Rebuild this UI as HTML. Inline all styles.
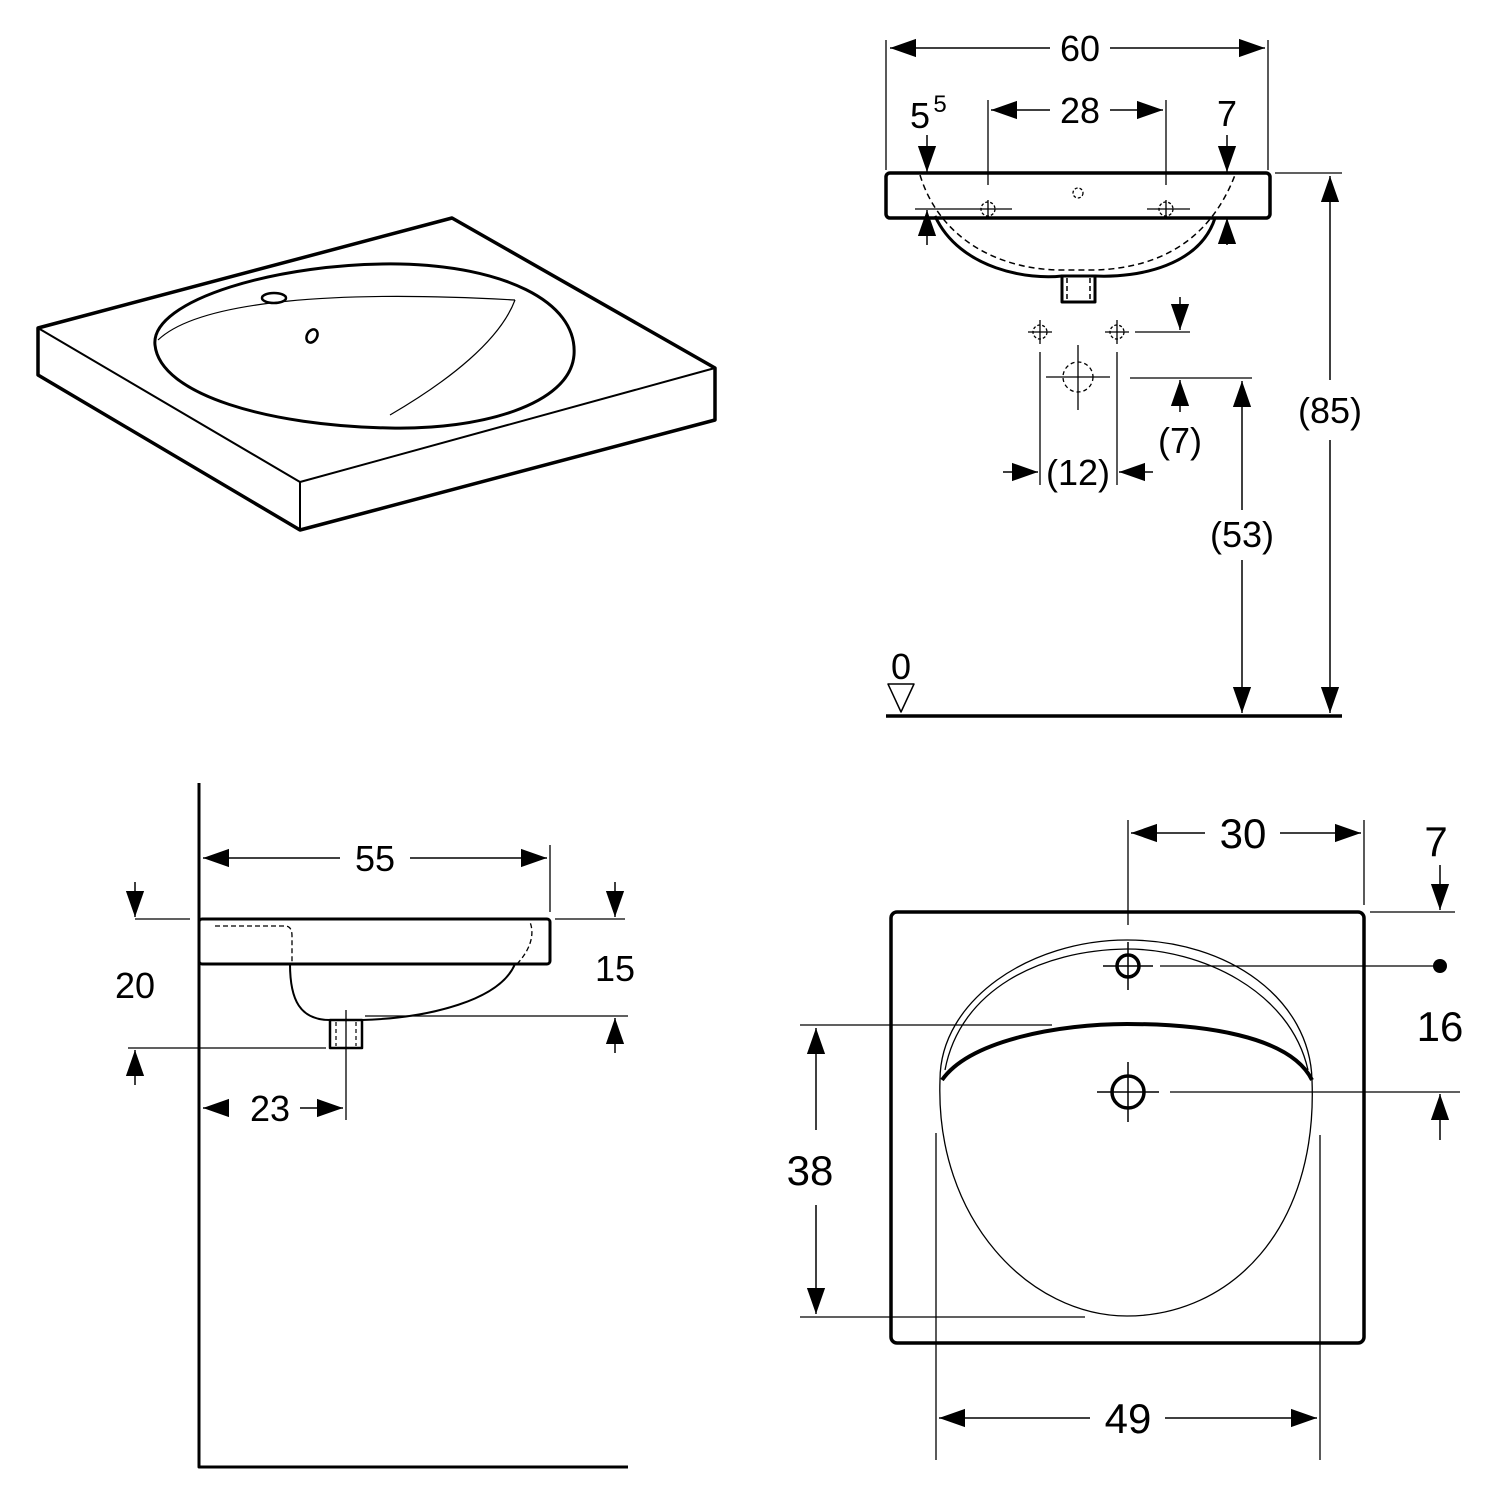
<!DOCTYPE html>
<html><head><meta charset="utf-8"><style>html,body{margin:0;padding:0;background:#fff}svg{display:block}text{font-family:"Liberation Sans",sans-serif;fill:#000}</style></head><body>
<svg width="1500" height="1500" viewBox="0 0 1500 1500" xmlns="http://www.w3.org/2000/svg">
<defs>
<marker id="a" viewBox="0 0 10 10" refX="10" refY="5" markerWidth="26" markerHeight="26" markerUnits="userSpaceOnUse" orient="auto-start-reverse"><path d="M0,1.5 L10,5 L0,8.5z" fill="#000"/></marker>
</defs>
<g fill="none" stroke="#000" stroke-linejoin="round">
<path d="M38,328 L452,218 L715,368 L715,420 L300,530 L38,375 Z" stroke-width="3.5"/>
<path d="M38,328 L300,482 L715,368 M300,482 L300,530" stroke-width="2"/>
<path d="M155,345 C150,300 280,262 400,264 C500,266 578,300 574,355 C570,405 480,430 390,428 C270,426 160,395 155,345 Z" stroke-width="3"/>
<path d="M158,340 C200,300 340,290 515,300" stroke-width="1.2"/>
<path d="M390,415 C450,380 500,340 515,300" stroke-width="1.2"/>
<ellipse cx="274" cy="298" rx="12" ry="5" stroke-width="2.5"/>
<ellipse cx="312" cy="336" rx="5" ry="7" transform="rotate(30 312 336)" stroke-width="2.5"/>

<rect x="886" y="173" width="384" height="45" rx="4" stroke-width="3.5"/>
<path d="M935,216 C960,270 1030,280 1062,276 L1095,276 C1140,278 1200,265 1215,218" stroke-width="3"/>
<path d="M920,175 C940,240 1000,270 1062,270 L1095,270 C1160,268 1210,240 1235,175" stroke-width="1.5" stroke-dasharray="6,4"/>
<rect x="1062" y="276" width="33" height="26" stroke-width="3"/>
<path d="M1067,278 V300 M1090,278 V300" stroke-width="1.5" stroke-dasharray="5,3"/>
<circle cx="1078" cy="193" r="5" stroke-width="1.3" stroke-dasharray="3,2"/>
<path d="M915,209 H1012 M1147,209 H1190 M988,200 V218 M1166,200 V218" stroke-width="1.3"/>
<circle cx="988" cy="209" r="7" stroke-width="1.3" stroke-dasharray="3,2"/>
<circle cx="1166" cy="209" r="7" stroke-width="1.3" stroke-dasharray="3,2"/>
<path d="M886,40 V170 M1268,40 V170 M988,100 V185 M1166,100 V185 M1275,173 H1342" stroke-width="1.3"/>
<path d="M886,716 H1342" stroke-width="3.5"/>
<line x1="890" y1="48" x2="1050" y2="48" stroke-width="1.5" marker-start="url(#a)"/>
<line x1="1110" y1="48" x2="1265" y2="48" stroke-width="1.5" marker-end="url(#a)"/>
<line x1="991" y1="110" x2="1050" y2="110" stroke-width="1.5" marker-start="url(#a)"/>
<line x1="1110" y1="110" x2="1163" y2="110" stroke-width="1.5" marker-end="url(#a)"/>
<line x1="927" y1="135" x2="927" y2="172" stroke-width="1.5" marker-end="url(#a)"/>
<line x1="1227" y1="135" x2="1227" y2="172" stroke-width="1.5" marker-end="url(#a)"/>
<line x1="927" y1="245" x2="927" y2="210" stroke-width="1.5" marker-end="url(#a)"/>
<line x1="1227" y1="245" x2="1227" y2="218" stroke-width="1.5" marker-end="url(#a)"/>
<line x1="1330" y1="380" x2="1330" y2="176" stroke-width="1.5" marker-end="url(#a)"/>
<line x1="1330" y1="440" x2="1330" y2="713" stroke-width="1.5" marker-end="url(#a)"/>
<line x1="1242" y1="510" x2="1242" y2="381" stroke-width="1.5" marker-end="url(#a)"/>
<line x1="1242" y1="560" x2="1242" y2="713" stroke-width="1.5" marker-end="url(#a)"/>
<path d="M1028,332 H1052 M1040,320 V344 M1105,332 H1129 M1117,320 V344 M1046,377 H1110 M1078,345 V410" stroke-width="1.3"/>
<circle cx="1040" cy="332" r="7" stroke-width="1.3" stroke-dasharray="3,2"/>
<circle cx="1117" cy="332" r="7" stroke-width="1.3" stroke-dasharray="3,2"/>
<circle cx="1078" cy="377" r="15" stroke-width="1.3" stroke-dasharray="4,3"/>
<path d="M1040,352 V485 M1117,352 V485 M1135,332 H1190 M1130,378 H1252" stroke-width="1.3"/>
<line x1="1180" y1="297" x2="1180" y2="330" stroke-width="1.5" marker-end="url(#a)"/>
<line x1="1180" y1="412" x2="1180" y2="380" stroke-width="1.5" marker-end="url(#a)"/>
<line x1="1003" y1="472" x2="1038" y2="472" stroke-width="1.5" marker-end="url(#a)"/>
<line x1="1153" y1="472" x2="1119" y2="472" stroke-width="1.5" marker-end="url(#a)"/>
<path d="M888,684 L914,684 L901,712 Z" stroke-width="1.5"/>

<path d="M199,783 V1467 H628" stroke-width="3"/>
<rect x="199" y="919" width="351" height="45" rx="3" stroke-width="3"/>
<path d="M290,964 C290,1000 300,1020 330,1020 L362,1020 C430,1018 500,1000 515,964" stroke-width="2"/>
<path d="M215,926 H285 Q292,926 292,936 V964 M517,964 C530,950 535,935 530,922" stroke-width="1.3" stroke-dasharray="5,3"/>
<rect x="330" y="1020" width="32" height="28" stroke-width="2.5"/>
<path d="M336,1022 V1046 M356,1022 V1046" stroke-width="1.2" stroke-dasharray="4,3"/>
<path d="M550,845 V912 M346,1010 V1120 M135,919 H190 M555,919 H625 M365,1016 H628 M128,1048 H326" stroke-width="1.3"/>
<line x1="203" y1="858" x2="340" y2="858" stroke-width="1.5" marker-start="url(#a)"/>
<line x1="410" y1="858" x2="547" y2="858" stroke-width="1.5" marker-end="url(#a)"/>
<line x1="203" y1="1108" x2="215" y2="1108" stroke-width="1.5" marker-start="url(#a)"/>
<line x1="300" y1="1108" x2="343" y2="1108" stroke-width="1.5" marker-end="url(#a)"/>
<line x1="135" y1="882" x2="135" y2="917" stroke-width="1.5" marker-end="url(#a)"/>
<line x1="135" y1="1085" x2="135" y2="1050" stroke-width="1.5" marker-end="url(#a)"/>
<line x1="615" y1="882" x2="615" y2="917" stroke-width="1.5" marker-end="url(#a)"/>
<line x1="615" y1="1053" x2="615" y2="1018" stroke-width="1.5" marker-end="url(#a)"/>

<rect x="891" y="912" width="473" height="431" rx="6" stroke-width="3.5"/>
<path d="M940,1080 C940,1000 1030,940 1127,940 C1230,940 1310,1000 1312,1080" stroke-width="1.3"/>
<path d="M945,1070 C960,990 1040,950 1127,949 C1200,949 1290,990 1308,1070" stroke-width="1.3"/>
<path d="M940,1080 C935,1220 1030,1316 1127,1316 C1230,1316 1318,1230 1312,1080" stroke-width="1.3"/>
<path d="M942,1080 C970,1040 1060,1024 1127,1024 C1200,1024 1290,1035 1312,1080" stroke-width="4"/>
<circle cx="1128" cy="966" r="11" stroke-width="3.5"/>
<circle cx="1128" cy="1092" r="16" stroke-width="3.5"/>
<path d="M1103,966 H1153 M1128,942 V990 M1097,1092 H1159 M1128,1062 V1122" stroke-width="1.5"/>
<path d="M1128,820 V925 M1364,820 V905 M1160,966 H1440 M1170,1092 H1460 M1370,912 H1455 M800,1025 H1052 M800,1317 H1085 M936,1133 V1460 M1320,1135 V1460" stroke-width="1.3"/>
<circle cx="1440" cy="966" r="7" fill="#000" stroke="none"/>
<line x1="1131" y1="833" x2="1205" y2="833" stroke-width="1.5" marker-start="url(#a)"/>
<line x1="1280" y1="833" x2="1361" y2="833" stroke-width="1.5" marker-end="url(#a)"/>
<line x1="1440" y1="865" x2="1440" y2="910" stroke-width="1.5" marker-end="url(#a)"/>
<line x1="1440" y1="1140" x2="1440" y2="1094" stroke-width="1.5" marker-end="url(#a)"/>
<line x1="816" y1="1130" x2="816" y2="1028" stroke-width="1.5" marker-end="url(#a)"/>
<line x1="816" y1="1205" x2="816" y2="1314" stroke-width="1.5" marker-end="url(#a)"/>
<line x1="939" y1="1418" x2="1090" y2="1418" stroke-width="1.5" marker-start="url(#a)"/>
<line x1="1165" y1="1418" x2="1317" y2="1418" stroke-width="1.5" marker-end="url(#a)"/>
</g>
<g font-size="36" text-anchor="middle">
<text x="1080" y="61">60</text>
<text x="1080" y="123">28</text>
<text x="920" y="128">5</text><text x="940" y="112" font-size="24">5</text>
<text x="1227" y="126">7</text>
<text x="1330" y="423">(85)</text>
<text x="1242" y="547">(53)</text>
<text x="1180" y="453">(7)</text>
<text x="1078" y="485">(12)</text>
<text x="901" y="679">0</text>
<text x="375" y="871">55</text>
<text x="135" y="998">20</text>
<text x="615" y="981">15</text>
<text x="270" y="1121">23</text>
<text x="1243" y="848" font-size="42">30</text>
<text x="1436" y="856" font-size="42">7</text>
<text x="1440" y="1041" font-size="42">16</text>
<text x="810" y="1185" font-size="42">38</text>
<text x="1128" y="1433" font-size="42">49</text>
</g>
</svg>
</body></html>
